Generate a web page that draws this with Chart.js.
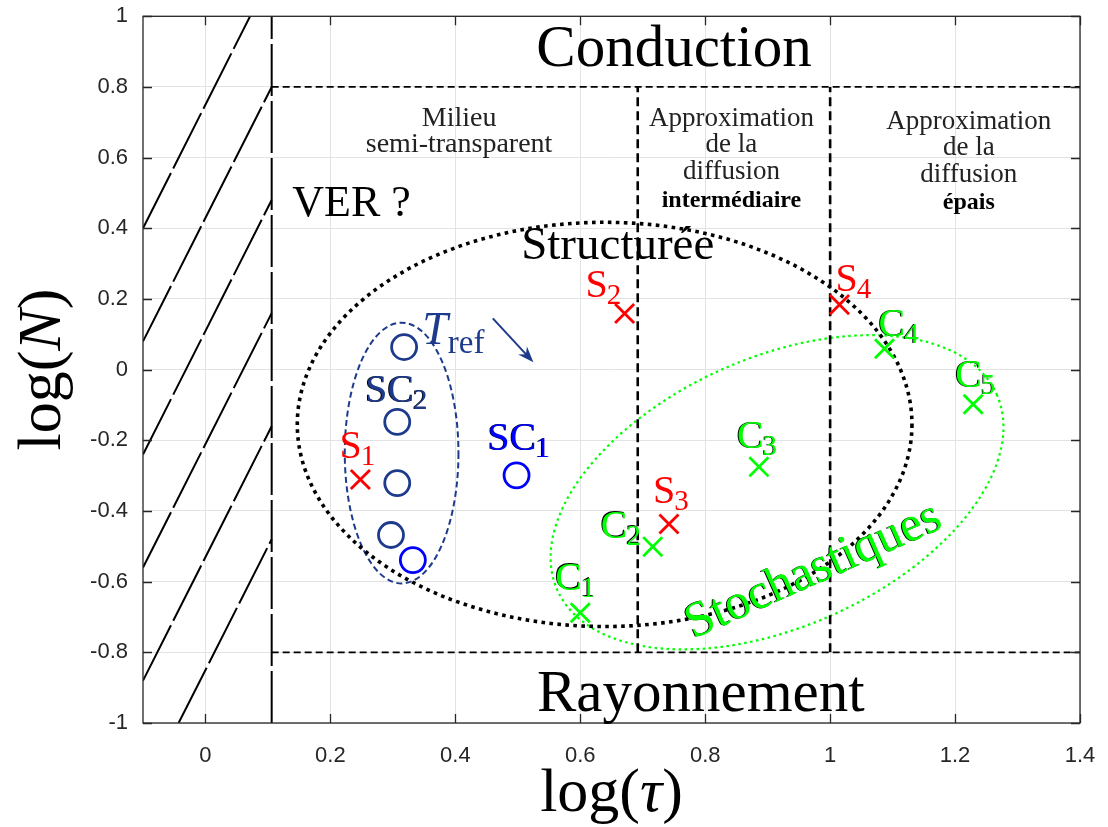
<!DOCTYPE html>
<html><head><meta charset="utf-8">
<script src="https://cdn.jsdelivr.net/npm/chart.js@4/dist/chart.umd.min.js"></script>
<style>html,body{margin:0;padding:0;background:#fff;} canvas{display:block;}</style>
</head><body>
<canvas id="c" width="1108" height="827"></canvas>
<script>
// ---------------- data ----------------
const xTicks = [0, 0.2, 0.4, 0.6, 0.8, 1, 1.2, 1.4];
const xTickLabels = ['0','0.2','0.4','0.6','0.8','1','1.2','1.4'];
const yTicks = [-1,-0.8,-0.6,-0.4,-0.2,0,0.2,0.4,0.6,0.8,1];
const yTickLabels = ['-1','-0.8','-0.6','-0.4','-0.2','0','0.2','0.4','0.6','0.8','1'];

const sNames = ['1','2','3','4'];
const sX = [0.248, 0.671, 0.742, 1.015];
const sY = [-0.311, 0.159, -0.437, 0.184];

const cNames = ['1','2','3','4','5'];
const cX = [0.600, 0.716, 0.886, 1.087, 1.229];
const cY = [-0.688, -0.501, -0.275, 0.059, -0.098];

const sc1X = [0.498, 0.332];
const sc1Y = [-0.299, -0.539];
const sc2X = [0.318, 0.307, 0.307, 0.297];
const sc2Y = [0.064, -0.148, -0.321, -0.468];

// regime boundaries
const tauLimit = 0.106;
const tauBounds = [0.692, 1.0];
const nBounds = [0.8, -0.8];

// hatch segments
const hatchX1 = [-0.1, -0.1, -0.1, -0.1, -0.1, -0.043];
const hatchY1 = [0.40, 0.08, -0.24, -0.56, -0.88, -1.0];
const hatchX2 = [0.0714, 0.106, 0.106, 0.106, 0.106, 0.106];
const hatchY2 = [1.0, 0.80, 0.48, 0.16, -0.16, -0.48];

// ellipses: centre x, centre y, radius x, radius y
const ellStruct = [0.639, -0.155, 0.492, 0.572];
const ellSC2 = [0.314, -0.236, 0.091, 0.369];
// centre x, centre y, semi-axes (in x units), tilt deg
const ellStoch = [0.915, -0.347, 0.385, 0.2155, 24];

// ---------------- styles ----------------
const RED = '#ff0000', GREEN = '#00ff00', BLUE = '#0000ff', DBLUE = '#1d3a8c';
const SERIF = '"Liberation Serif", "Times New Roman", serif';
const sLabelOff = [[-21,-22],[-39,-16],[-16,-21],[-4,-14]];
const cLabelOff = [[-25,-23],[-52,-9],[-22,-19],[-6,-13],[-18,-17]];
const sc1LabelOff = [-29,-25];

const datasets = [];
const pts = (xs, ys) => xs.map((x, i) => ({x, y: ys[i]}));

datasets.push({label:'S', data: pts(sX, sY), pointStyle:'crossRot', pointRadius:13.5, borderColor:RED, backgroundColor:RED, pointBorderWidth:2.8, showLine:false, order:0});
datasets.push({label:'C', data: pts(cX, cY), pointStyle:'crossRot', pointRadius:13.5, borderColor:GREEN, backgroundColor:GREEN, pointBorderWidth:2.8, showLine:false, order:0});
datasets.push({label:'SC1', data: pts(sc1X, sc1Y), pointStyle:'circle', pointRadius:12.5, borderColor:BLUE, backgroundColor:'rgba(0,0,0,0)', pointBorderWidth:2.8, showLine:false, order:0});
datasets.push({label:'SC2', data: pts(sc2X, sc2Y), pointStyle:'circle', pointRadius:12.5, borderColor:DBLUE, backgroundColor:'rgba(0,0,0,0)', pointBorderWidth:2.8, showLine:false, order:0});

const lineDs = (data, width, dash) => ({data, showLine:true, pointRadius:0, borderColor:'#000', borderWidth:width, borderDash:dash, fill:false, order:5, tension:0});
for (let i = 0; i < hatchX1.length; i++) {
  datasets.push(lineDs([{x:hatchX1[i], y:hatchY1[i]}, {x:hatchX2[i], y:hatchY2[i]}], 2, [62, 5]));
}
datasets.push(lineDs([{x:tauLimit, y:-1}, {x:tauLimit, y:1}], 2, [52, 5]));
nBounds.forEach(n => datasets.push(lineDs([{x:tauLimit, y:n}, {x:1.4, y:n}], 1.8, [7, 4])));
tauBounds.forEach(t => datasets.push(lineDs([{x:t, y:nBounds[1]}, {x:t, y:nBounds[0]}], 2.6, [9, 5])));

function txt(ctx, s, x, y, size, color, opts = {}) {
  ctx.save();
  ctx.font = (opts.style || '') + ' ' + (opts.weight || '') + ' ' + size + 'px ' + (opts.family || SERIF);
  ctx.textAlign = opts.align || 'left';
  ctx.textBaseline = 'alphabetic';
  if (opts.shadow) { ctx.fillStyle = '#000'; ctx.fillText(s, x - 0.9, y - 0.3); }
  ctx.fillStyle = color;
  ctx.fillText(s, x, y);
  const w = ctx.measureText(s).width;
  ctx.restore();
  return w;
}
function subLabel(ctx, main, sub, x, y, color, shadow, mainSize = 40, subSize = 29) {
  const w = txt(ctx, main, x, y, mainSize, color, {shadow});
  txt(ctx, sub, x + w - 1, y + 7, subSize, color, {shadow});
}

const annot = {
  id: 'annot',
  beforeDatasetsDraw(chart) {
    const {ctx, scales: {x, y}} = chart;
    const ppx = x.getPixelForValue(1) - x.getPixelForValue(0);
    ctx.save();
    ctx.beginPath(); ctx.rect(chart.chartArea.left, chart.chartArea.top, chart.chartArea.width, chart.chartArea.height); ctx.clip();
    ctx.beginPath();
    ctx.ellipse(x.getPixelForValue(ellStoch[0]), y.getPixelForValue(ellStoch[1]), ellStoch[2]*ppx, ellStoch[3]*ppx, -ellStoch[4]*Math.PI/180, 0, Math.PI*2);
    ctx.strokeStyle = GREEN; ctx.lineWidth = 2.2; ctx.setLineDash([2.5, 3.5]); ctx.stroke();
    ctx.beginPath();
    let cx = x.getPixelForValue(ellSC2[0]), cy = y.getPixelForValue(ellSC2[1]);
    ctx.ellipse(cx, cy, x.getPixelForValue(ellSC2[0]+ellSC2[2]) - cx, cy - y.getPixelForValue(ellSC2[1]+ellSC2[3]), 0, 0, Math.PI*2);
    ctx.strokeStyle = DBLUE; ctx.lineWidth = 2; ctx.setLineDash([6, 3.5]); ctx.stroke();
    ctx.beginPath();
    cx = x.getPixelForValue(ellStruct[0]); cy = y.getPixelForValue(ellStruct[1]);
    ctx.ellipse(cx, cy, x.getPixelForValue(ellStruct[0]+ellStruct[2]) - cx, cy - y.getPixelForValue(ellStruct[1]+ellStruct[3]), 0, 0, Math.PI*2);
    ctx.strokeStyle = '#000'; ctx.lineWidth = 3.6; ctx.setLineDash([3.6, 4.4]); ctx.stroke();
    ctx.restore();
  },
  afterDatasetsDraw(chart) {
    const {ctx, chartArea: a, scales: {x, y}} = chart;
    ctx.save();
    ctx.strokeStyle = '#262626'; ctx.lineWidth = 1.3; ctx.setLineDash([]);
    ctx.strokeRect(a.left, a.top, a.width, a.height);
    ctx.beginPath();
    xTicks.forEach(v => { const px = Math.round(x.getPixelForValue(v)) + 0.5; ctx.moveTo(px, a.bottom); ctx.lineTo(px, a.bottom - 9); ctx.moveTo(px, a.top); ctx.lineTo(px, a.top + 9); });
    yTicks.forEach(v => { const py = Math.round(y.getPixelForValue(v)) + 0.5; ctx.moveTo(a.left, py); ctx.lineTo(a.left + 9, py); ctx.moveTo(a.right, py); ctx.lineTo(a.right - 9, py); });
    ctx.stroke();

    const X = v => x.getPixelForValue(v), Y = v => y.getPixelForValue(v);
    txt(ctx, 'Conduction', X(0.75), Y(0.86), 59, '#000', {align:'center'});
    txt(ctx, 'Rayonnement', X(0.793), Y(-0.965), 59, '#000', {align:'center'});
    txt(ctx, 'Milieu', X(0.406), Y(0.69), 28, '#222', {align:'center'});
    txt(ctx, 'semi-transparent', X(0.406), Y(0.615), 28, '#222', {align:'center'});
    txt(ctx, 'Approximation', X(0.842), Y(0.69), 27, '#222', {align:'center'});
    txt(ctx, 'de la', X(0.842), Y(0.615), 27, '#222', {align:'center'});
    txt(ctx, 'diffusion', X(0.842), Y(0.540), 27, '#222', {align:'center'});
    txt(ctx, 'intermédiaire', X(0.842), Y(0.459), 24, '#000', {align:'center', weight:'bold'});
    txt(ctx, 'Approximation', X(1.222), Y(0.681), 27, '#222', {align:'center'});
    txt(ctx, 'de la', X(1.222), Y(0.608), 27, '#222', {align:'center'});
    txt(ctx, 'diffusion', X(1.222), Y(0.530), 27, '#222', {align:'center'});
    txt(ctx, 'épais', X(1.222), Y(0.456), 24, '#000', {align:'center', weight:'bold'});
    txt(ctx, 'VER ?', X(0.139), Y(0.436), 44, '#000');
    txt(ctx, 'Structurée', X(0.660), Y(0.314), 47, '#000', {align:'center'});

    const tw = txt(ctx, 'T', X(0.347), Y(0.074), 46, DBLUE, {style:'italic'});
    txt(ctx, 'ref', X(0.347) + tw, Y(0.074) + 9, 33, DBLUE);
    const ax1 = X(0.460), ay1 = Y(0.145), ax2 = X(0.525), ay2 = Y(0.021);
    const ang = Math.atan2(ay2 - ay1, ax2 - ax1);
    ctx.strokeStyle = DBLUE; ctx.fillStyle = DBLUE; ctx.lineWidth = 2;
    ctx.beginPath(); ctx.moveTo(ax1, ay1); ctx.lineTo(ax2 - 8*Math.cos(ang), ay2 - 8*Math.sin(ang)); ctx.stroke();
    ctx.beginPath();
    ctx.moveTo(ax2, ay2);
    ctx.lineTo(ax2 - 16*Math.cos(ang) + 6*Math.sin(ang), ay2 - 16*Math.sin(ang) - 6*Math.cos(ang));
    ctx.lineTo(ax2 - 11*Math.cos(ang), ay2 - 11*Math.sin(ang));
    ctx.lineTo(ax2 - 16*Math.cos(ang) - 6*Math.sin(ang), ay2 - 16*Math.sin(ang) + 6*Math.cos(ang));
    ctx.closePath(); ctx.fill();

    sX.forEach((v, i) => subLabel(ctx, 'S', sNames[i], X(v) + sLabelOff[i][0], Y(sY[i]) + sLabelOff[i][1], RED, false));
    cX.forEach((v, i) => subLabel(ctx, 'C', cNames[i], X(v) + cLabelOff[i][0], Y(cY[i]) + cLabelOff[i][1], GREEN, true));
    subLabel(ctx, 'SC', '1', X(sc1X[0]) + sc1LabelOff[0], Y(sc1Y[0]) + sc1LabelOff[1], BLUE, true);
    subLabel(ctx, 'SC', '2', X(0.2557), Y(-0.092), DBLUE, true);

    ctx.save();
    ctx.translate(X(0.982), Y(-0.604));
    ctx.rotate(-24 * Math.PI / 180);
    txt(ctx, 'Stochastiques', 0, 0, 50, GREEN, {align:'center', shadow:true});
    ctx.restore();
    ctx.restore();
  },
  afterDraw(chart) {
    const {ctx, chartArea: a} = chart;
    ctx.save();
    const parts = [['log(', ''], ['τ', 'italic'], [')', '']];
    let widths = parts.map(p => { ctx.font = p[1] + ' 62px ' + SERIF; return ctx.measureText(p[0]).width; });
    let total = widths.reduce((s, w) => s + w, 0);
    let cx = (a.left + a.right) / 2 - total / 2;
    parts.forEach((p, i) => { txt(ctx, p[0], cx, 811, 62, '#000', {style:p[1]}); cx += widths[i]; });
    ctx.translate(60, (a.top + a.bottom) / 2);
    ctx.rotate(-Math.PI / 2);
    const partsY = [['log(', ''], ['N', 'italic'], [')', '']];
    widths = partsY.map(p => { ctx.font = p[1] + ' 62px ' + SERIF; return ctx.measureText(p[0]).width; });
    total = widths.reduce((s, w) => s + w, 0);
    cx = -total / 2;
    partsY.forEach((p, i) => { txt(ctx, p[0], cx, 0, 62, '#000', {style:p[1]}); cx += widths[i]; });
    ctx.restore();
  }
};

new Chart(document.getElementById('c'), {
  type: 'scatter',
  data: { datasets },
  options: {
    responsive: false, animation: false, devicePixelRatio: 1,
    layout: { padding: { top: 15, right: 28, left: 0, bottom: 0 } },
    plugins: { legend: { display: false }, tooltip: { enabled: false } },
    scales: {
      x: {
        type: 'linear', min: -0.1, max: 1.4,
        afterBuildTicks: s => { s.ticks = xTicks.map(v => ({value: v})); },
        afterFit: s => { s.height = 104; s.paddingLeft = 0; s.paddingRight = 0; },
        ticks: { callback: (v, i) => xTickLabels[i], color: '#262626', font: {family: '"Liberation Sans", Arial, sans-serif', size: 22}, padding: 20, maxRotation: 0, autoSkip: false },
        grid: { color: '#e3e3e3', lineWidth: 1, drawTicks: false },
        border: { display: false }
      },
      y: {
        type: 'linear', min: -1, max: 1,
        afterBuildTicks: s => { s.ticks = yTicks.map(v => ({value: v})); },
        afterFit: s => { s.width = 143; s.paddingTop = 0; s.paddingBottom = 0; },
        ticks: { callback: (v, i) => yTickLabels[i], color: '#262626', font: {family: '"Liberation Sans", Arial, sans-serif', size: 22}, padding: 15, autoSkip: false },
        grid: { color: '#e3e3e3', lineWidth: 1, drawTicks: false },
        border: { display: false }
      }
    }
  },
  plugins: [annot]
});
</script>
</body></html>
